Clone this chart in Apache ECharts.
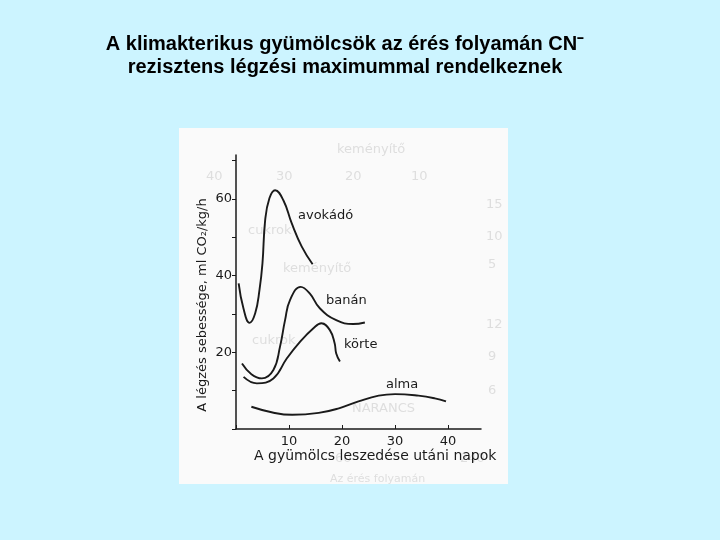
<!DOCTYPE html>
<html><head><meta charset="utf-8">
<script src="https://cdn.jsdelivr.net/npm/echarts@6/dist/echarts.min.js"></script>
<style>html,body{margin:0;padding:0;background:#CCF4FF;}#c{width:720px;height:540px;}</style>
</head><body><div id="c"></div>
<script>
const titleLines = ['A klimakterikus gyümölcsök az érés folyamán CN\u207B', 'rezisztens légzési maximummal rendelkeznek'];
const xTicks = [10, 20, 30, 40];
const yTicks = [20, 40, 60];
const avokado = [[0.5,38.0],[1.4,31.5],[2.56,27.7],[3.62,30.2],[4.43,36.3],[4.99,43.2],[5.5,54.5],[6.3,60.2],[7.37,62.3],[8.93,59.7],[10.5,53.7],[12.4,47.6],[14.45,43.0]];
const banan = [[1.13,17.1],[2.9,14.3],[4.88,13.2],[7.05,15.4],[8.3,21.5],[9.25,28.4],[10.2,33.7],[12.2,37.1],[13.9,35.4],[15.8,31.5],[18.9,28.4],[22.1,27.4],[24.3,27.8]];
const korte = [[1.43,13.6],[3.94,11.9],[7.05,13.2],[9.57,18.4],[12.1,22.8],[14.6,26.3],[16.1,27.6],[17.7,25.8],[18.6,22.4],[18.9,19.7],[19.6,17.6]];
const alma = [[2.9,5.8],[6.9,4.3],[10.6,3.7],[15.6,4.2],[19.4,5.4],[23.1,7.2],[26.9,8.7],[30,9.1],[34.4,8.7],[37.5,8],[39.6,7.2]];
const curveNames = ['avokádó', 'banán', 'körte', 'alma'];
const xName = 'A gyümölcs leszedése utáni napok';
const yName = 'A légzés sebessége, ml CO\u2082/kg/h';

const chart = echarts.init(document.getElementById('c'));
const ink = '#1a1a1a';
const font13 = '13px "DejaVu Sans", sans-serif';
const mk = (name, data) => ({name, type:'line', data, smooth:0.45, showSymbol:false, lineStyle:{color:ink, width:1.9}, silent:true});
const ghost = '#dedede';
const gt = (t, x, y, s) => ({type:'text', left:x, top:y, style:{text:t, fill:ghost, font:(s||13)+'px "DejaVu Sans", sans-serif'}, z:-5});
const lbl = (t, x, y) => ({type:'text', left:x, top:y, style:{text:t, fill:ink, font:font13}});
chart.setOption({
  backgroundColor:'#CCF4FF',
  animation:false,
  graphic:[
    {type:'rect', shape:{x:179, y:128, width:329, height:356}, style:{fill:'#FAFAFA'}, z:-10},
    gt('keményítő', 337, 143), gt('40', 206, 170), gt('30', 276, 170), gt('20', 345, 170), gt('10', 411, 170),
    gt('15', 486, 198), gt('10', 486, 230), gt('5', 488, 258), gt('cukrok', 248, 224), gt('keményítő', 283, 262),
    gt('12', 486, 318), gt('9', 488, 350), gt('6', 488, 384), gt('NARANCS', 352, 402), gt('cukrok', 252, 334),
    gt('240', 460, 452), gt('60', 335, 452), gt('Az érés folyamán', 330, 474, 11),
    {type:'text', x:345, y:34, style:{text:titleLines[0], fill:'#000', font:'bold 20px "Liberation Sans", Arial, sans-serif', textAlign:'center'}},
    {type:'text', x:345, y:57, style:{text:titleLines[1], fill:'#000', font:'bold 20px "Liberation Sans", Arial, sans-serif', textAlign:'center'}},
    lbl(curveNames[0], 298, 209), lbl(curveNames[1], 326, 294), lbl(curveNames[2], 344, 338), lbl(curveNames[3], 386, 378),
    {type:'text', left:254, top:449, style:{text:xName, fill:ink, font:'14px "DejaVu Sans", sans-serif'}},
    {type:'text', x:203, y:305, rotation:Math.PI/2, style:{text:yName, fill:ink, font:font13, textAlign:'center', textVerticalAlign:'middle'}}
  ],
  grid:{left:236, right:239, top:155, bottom:111},
  xAxis:{type:'value', min:0, max:46.2, interval:10,
    axisLine:{lineStyle:{color:ink, width:1.5}},
    axisTick:{inside:true, length:4, lineStyle:{color:ink}},
    splitLine:{show:false},
    axisLabel:{color:ink, fontSize:13, fontFamily:'"DejaVu Sans", sans-serif', margin:6, showMaxLabel:false,
      formatter:v => xTicks.includes(v) ? String(v) : ''}},
  yAxis:{type:'value', min:0, max:71.5, interval:10,
    axisLine:{lineStyle:{color:ink, width:1.5}},
    axisTick:{length:4, lineStyle:{color:ink}},
    splitLine:{show:false},
    axisLabel:{color:ink, fontSize:13, fontFamily:'"DejaVu Sans", sans-serif', margin:4, showMaxLabel:false,
      formatter:v => yTicks.includes(v) ? String(v) : ''}},
  series:[mk(curveNames[0], avokado), mk(curveNames[1], banan), mk(curveNames[2], korte), mk(curveNames[3], alma)]
});
</script></body></html>
